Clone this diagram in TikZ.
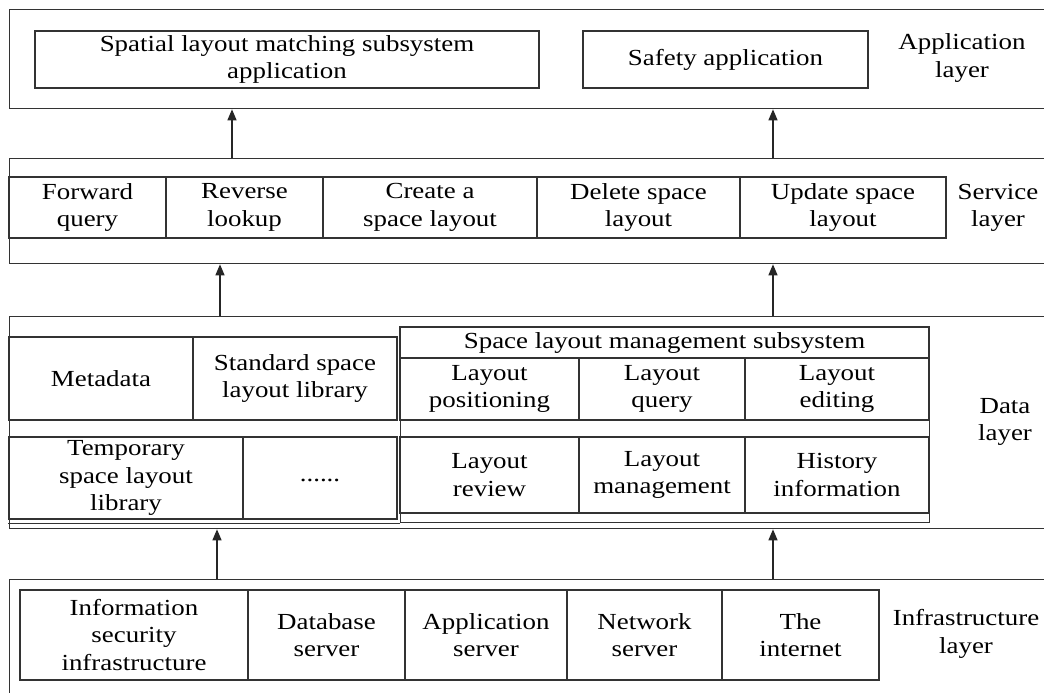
\documentclass[tikz,border=0pt]{standalone}
\usepackage{fontspec}
\setmainfont{Liberation Serif}[FakeStretch=1.17]
\usetikzlibrary{arrows.meta}
\tikzset{
  txt/.style={align=center, text=black, font=\fontsize{23}{27.5}\selectfont},
  layerbox/.style={draw=black!80, line width=1.3pt, anchor=north west, inner sep=0pt},
  cell/.style 2 args={txt, draw=black!80, line width=1.3pt, inner sep=0pt,
    minimum width=#1, minimum height=#2},
  lbl/.style={txt},
  arr/.style={draw=black!85, line width=1.3pt, -{Triangle[length=11pt,width=9pt]}},
  rule/.style={draw=black!80, line width=1.3pt}
}
\begin{document}
\begin{tikzpicture}[x=1pt,y=-1pt]
\useasboundingbox (0,0) rectangle (1044,693);
\clip (0,0) rectangle (1044,693);

% Application layer
\node[layerbox, minimum width=1050, minimum height=99] (applayer) at (9,9) {};
\node[cell={504}{57}] (spatial) at (287,59.5) {Spatial layout matching subsystem\\application};
\node[cell={285}{57}] (safety) at (725.5,59.5) {Safety application};
\node[lbl] (applbl) at (962,58) {Application\\layer};

% Service layer
\node[layerbox, minimum width=1050, minimum height=105] (svclayer) at (9,158) {};
\node[cell={157}{61}] (fwd) at (87.5,207.5) {Forward\\query};
\node[cell={157}{61}] (rev) at (244.5,207.5) {Reverse\\lookup};
\node[cell={214}{61}] (create) at (430,207.5) {Create a\\space layout};
\node[cell={203}{61}] (delete) at (638.5,207.5) {Delete space\\layout};
\node[cell={206}{61}] (update) at (843,207.5) {Update space\\layout};
\node[lbl] (svclbl) at (998,208) {Service\\layer};

% Data layer
\node[layerbox, minimum width=1050, minimum height=212] (datalayer) at (9,316) {};
\node[cell={184}{83}] (meta) at (101,378.5) {Metadata};
\node[cell={204}{83}] (stdlib) at (295,378.5) {Standard space\\layout library};
\node[cell={234}{82}] (templib) at (126,478) {Temporary\\space layout\\library};
\node[cell={154}{82}] (more) at (320,478) {\raisebox{-0.3ex}[0pt][0pt]{......}};
\node[layerbox, minimum width=529, minimum height=195] (subsys) at (400,327) {};
\node[cell={529}{31}] (subtitle) at (664.5,342.5) {Space layout management subsystem};
\node[cell={179}{62}] (lpos) at (489.5,389) {Layout\\positioning};
\node[cell={166}{62}] (lquery) at (662,389) {Layout\\query};
\node[cell={184}{62}] (ledit) at (837,389) {Layout\\editing};
\node[cell={179}{76}] (lrev) at (489.5,475) {Layout\\review};
\node[cell={166}{76}] (lmgmt) at (662,475) {Layout\\management};
\node[cell={184}{76}] (lhist) at (837,475) {History\\information};
\draw[rule] (templib.south west |- subsys.south) -- (subsys.south west);
\node[lbl] (datalbl) at (1005,422) {Data\\layer};

% Infrastructure layer
\node[layerbox, minimum width=1050, minimum height=130] (infralayer) at (9,579) {};
\node[cell={228}{90}] (infosec) at (134,635) {Information\\security\\infrastructure};
\node[cell={157}{90}] (dbsrv) at (326.5,635) {Database\\server};
\node[cell={162}{90}] (appsrv) at (486,635) {Application\\server};
\node[cell={155}{90}] (netsrv) at (644.5,635) {Network\\server};
\node[cell={157}{90}] (inet) at (800.5,635) {The\\internet};
\node[lbl] (infralbl) at (966,634) {Infrastructure\\layer};

% Flows between layers
\draw[arr] (232,0 |- svclayer.north) -- (232,0 |- applayer.south);
\draw[arr] (773,0 |- svclayer.north) -- (773,0 |- applayer.south);
\draw[arr] (220,0 |- datalayer.north) -- (220,0 |- svclayer.south);
\draw[arr] (773,0 |- datalayer.north) -- (773,0 |- svclayer.south);
\draw[arr] (217,0 |- infralayer.north) -- (217,0 |- datalayer.south);
\draw[arr] (773,0 |- infralayer.north) -- (773,0 |- datalayer.south);
\end{tikzpicture}
\end{document}
